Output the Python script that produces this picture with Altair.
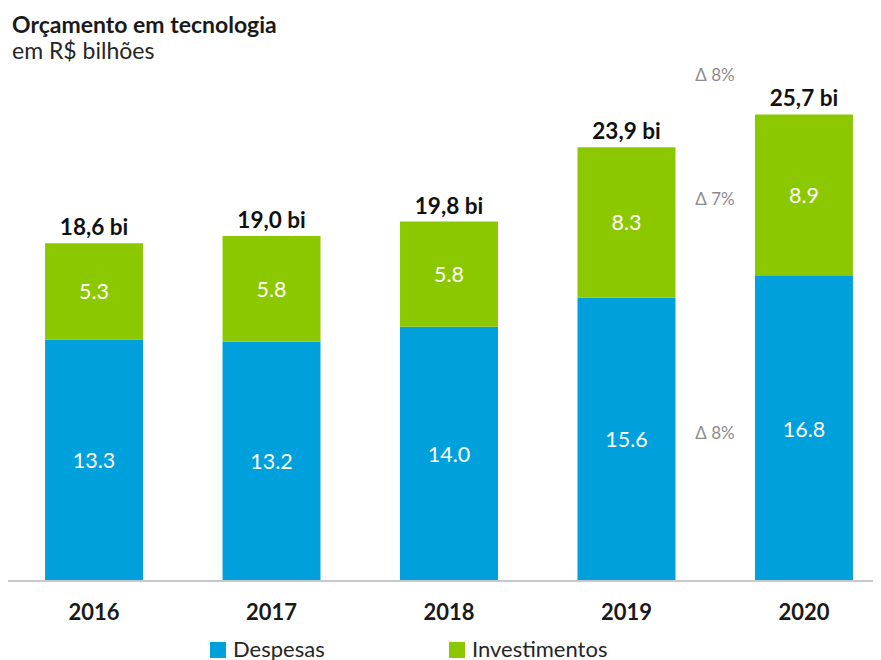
import altair as alt
import pandas as pd

years = ["2016", "2017", "2018", "2019", "2020"]
despesas = [13.3, 13.2, 14.0, 15.6, 16.8]
investimentos = [5.3, 5.8, 5.8, 8.3, 8.9]
total_labels = ["18,6 bi", "19,0 bi", "19,8 bi", "23,9 bi", "25,7 bi"]
series = ["Despesas", "Investimentos"]
colors = ["#00A0DC", "#8CC800"]
# variation 2020 vs 2019: total, investimentos, despesas
delta_total = "Δ 8%"
delta_inv = "Δ 7%"
delta_desp = "Δ 8%"

FONT = "Lato"
W, H = 848, 521

rows = []
for i, yr in enumerate(years):
    d, v = despesas[i], investimentos[i]
    rows.append(dict(year=yr, serie=series[0], y0=0, y1=d, mid=d / 2, label=f"{d:.1f}", ord=0))
    rows.append(dict(year=yr, serie=series[1], y0=d, y1=d + v, mid=d + v / 2, label=f"{v:.1f}", ord=1))
df = pd.DataFrame(rows)

tot = pd.DataFrame(dict(year=years, total=[despesas[i] + investimentos[i] for i in range(5)], label=total_labels))

last = len(years) - 1
delta_mid = pd.DataFrame(dict(
    year=[years[last], years[last]],
    pos=[despesas[last] + investimentos[last] / 2, despesas[last] / 2],
    label=[delta_inv, delta_desp],
))
delta_top = pd.DataFrame(dict(year=[years[last]], pos=[despesas[last] + investimentos[last]], label=[delta_total]))

xs = alt.X("year:N", sort=years,
           scale=alt.Scale(paddingInner=0.448, paddingOuter=0.113),
           axis=alt.Axis(title=None, domain=False, ticks=False, labelAngle=0,
                         labelFont=FONT, labelFontSize=22, labelFontWeight="bold",
                         labelColor="#1a1a1a", labelPadding=21))
yscale = alt.Scale(domain=[0, 28.7], nice=False, zero=True)

base = alt.Chart(df)

bars = base.mark_bar().encode(
    x=xs,
    y=alt.Y("y0:Q", scale=yscale, axis=None),
    y2="y1:Q",
    color=alt.Color("serie:N", sort=series,
                    scale=alt.Scale(domain=series, range=colors),
                    legend=alt.Legend(title=None, orient="none", legendX=182, legendY=579,
                                      direction="horizontal", symbolType="square",
                                      symbolSize=256, symbolStrokeWidth=0, symbolOpacity=1,
                                      labelFont=FONT, labelFontSize=22, labelColor="#262626",
                                      columnPadding=121, labelOffset=4, padding=0)),
)

inner = base.mark_text(font=FONT, fontSize=21.5, color="white", baseline="middle", dy=2).encode(
    x=alt.X("year:N", sort=years), y=alt.Y("mid:Q", scale=yscale), text="label:N"
)

totals = alt.Chart(tot).mark_text(font=FONT, fontSize=22.5, fontWeight="bold", color="#111111",
                                  baseline="alphabetic", dy=-8).encode(
    x=alt.X("year:N", sort=years), y=alt.Y("total:Q", scale=yscale), text="label:N"
)

dmid = alt.Chart(delta_mid).mark_text(font=FONT, fontSize=17, color="#8c8c8c",
                                      baseline="middle", dx=-89, dy=5).encode(
    x=alt.X("year:N", sort=years), y=alt.Y("pos:Q", scale=yscale), text="label:N"
)
dtop = alt.Chart(delta_top).mark_text(font=FONT, fontSize=17, color="#8c8c8c",
                                      baseline="middle", dx=-89, dy=-38).encode(
    x=alt.X("year:N", sort=years), y=alt.Y("pos:Q", scale=yscale), text="label:N"
)

baseline_rule = alt.Chart(tot).mark_rule(color="#c8c8c8", strokeWidth=2).encode(
    y=alt.datum(0), x=alt.value(-20), x2=alt.value(W + 10)
)

chart = alt.layer(bars, baseline_rule, inner, totals, dmid, dtop).properties(
    width=W, height=H,
    title=alt.Title("Orçamento em tecnologia", subtitle="em R$ bilhões", anchor="start",
                    frame="group", font=FONT, fontSize=23, fontWeight="bold", color="#1a1a1a",
                    subtitleFont=FONT, subtitleFontSize=23, subtitleColor="#262626",
                    subtitlePadding=3, dx=-13, dy=4, offset=0),
    autosize=alt.AutoSizeParams(type="none"),
    padding={"left": 17, "top": 52, "right": 0, "bottom": 79},
).configure_view(stroke=None)

chart.save("out.html", embed_options={"renderer": "svg", "actions": False})
